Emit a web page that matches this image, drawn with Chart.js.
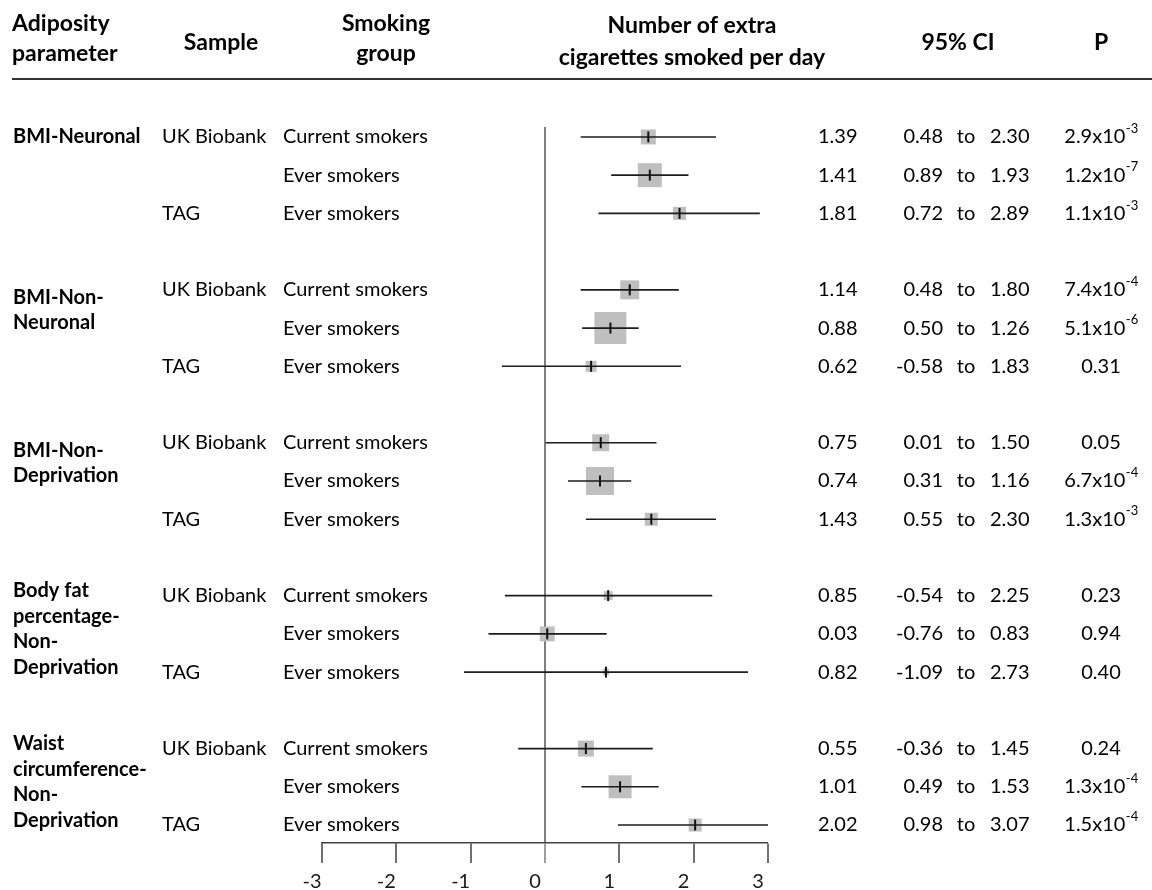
<!DOCTYPE html>
<html>
<head>
<meta charset="utf-8">
<title>Extra cigarettes smoked per day by adiposity parameter</title>
<script src="https://cdn.jsdelivr.net/npm/chart.js@4.4.1/dist/chart.umd.min.js"></script>
<style>
  html, body { margin: 0; padding: 0; background: #ffffff; }
  #wrap { position: relative; width: 1152px; height: 890px; }
</style>
</head>
<body>
<div id="wrap"><canvas id="forest" width="1152" height="890"></canvas></div>
<script>
// ---- data ----------------------------------------------------------------
const parameterLabels = [
  ['BMI-Neuronal'],
  ['BMI-Non-', 'Neuronal'],
  ['BMI-Non-', 'Deprivation'],
  ['Body fat', 'percentage-', 'Non-', 'Deprivation'],
  ['Waist', 'circumference-', 'Non-', 'Deprivation']
];
const samples = ['UK Biobank', '', 'TAG'];
const smokingGroups = ['Current smokers', 'Ever smokers', 'Ever smokers'];

const estimates = [1.39, 1.41, 1.81, 1.14, 0.88, 0.62, 0.75, 0.74, 1.43, 0.85, 0.03, 0.82, 0.55, 1.01, 2.02];
const ciLower   = [0.48, 0.89, 0.72, 0.48, 0.50, -0.58, 0.01, 0.31, 0.55, -0.54, -0.76, -1.09, -0.36, 0.49, 0.98];
const ciUpper   = [2.30, 1.93, 2.89, 1.80, 1.26, 1.83, 1.50, 1.16, 2.30, 2.25, 0.83, 2.73, 1.45, 1.53, 3.07];
const pMantissa = ['2.9x10', '1.2x10', '1.1x10', '7.4x10', '5.1x10', '0.31', '0.05', '6.7x10', '1.3x10',
                   '0.23', '0.94', '0.40', '0.24', '1.3x10', '1.5x10'];
const pExponent = ['-3', '-7', '-3', '-4', '-6', '', '', '-4', '-3', '', '', '', '', '-4', '-4'];
// relative weight of each estimate, shown as the side of its square (px)
const boxSide   = [15, 24, 13, 19, 32, 11, 17, 28, 13, 9, 15, 6, 16, 23, 13];
const xTicks    = [-3, -2, -1, 0, 1, 2, 3];

// ---- layout helpers ------------------------------------------------------
const ROWS_PER_GROUP = 3;
const GROUP_STRIDE = 4;            // three rows plus one blank row
const rowOf = i => Math.floor(i / ROWS_PER_GROUP) * GROUP_STRIDE + (i % ROWS_PER_GROUP);
const FONT = 'Lato, "Open Sans", sans-serif';
const BODY_PX = 20;
const HEAD_PX = 23;
const SUP_PX = 13;

// ---- datasets ------------------------------------------------------------
const ciDatasets = estimates.map((_, i) => ({
  type: 'line',
  data: [{ x: ciLower[i], y: rowOf(i) }, { x: ciUpper[i], y: rowOf(i) }],
  borderColor: '#1c1c1c',
  borderWidth: 1.6,
  pointRadius: 0,
  fill: false,
  order: 2
}));

const boxDataset = {
  type: 'scatter',
  data: estimates.map((v, i) => ({ x: v, y: rowOf(i) })),
  pointStyle: 'rect',
  pointRadius: ctx => boxSide[ctx.dataIndex] / (2 * Math.SQRT1_2),
  backgroundColor: '#bfbfbf',
  borderWidth: 0,
  order: 3
};

const centreDataset = {
  type: 'scatter',
  data: estimates.map((v, i) => ({ x: v, y: rowOf(i) })),
  pointStyle: 'line',
  pointRotation: 90,
  pointRadius: 5.5,
  borderColor: '#111111',
  borderWidth: 2,
  order: 1
};

// ---- table text drawn beside the plot ------------------------------------
const tablePlugin = {
  id: 'forestTable',
  afterDraw(chart) {
    const { ctx, scales } = chart;
    const yScale = scales.y;
    ctx.save();
    ctx.fillStyle = '#000000';

    // header
    ctx.font = `bold ${HEAD_PX}px ${FONT}`;
    ctx.textBaseline = 'alphabetic';
    ctx.textAlign = 'left';
    ctx.fillText('Adiposity', 12, 31);
    ctx.fillText('parameter', 12, 61);
    ctx.textAlign = 'center';
    ctx.fillText('Sample', 221, 50);
    ctx.fillText('Smoking', 386, 31);
    ctx.fillText('group', 386, 61);
    ctx.fillText('Number of extra', 692, 33);
    ctx.fillText('cigarettes smoked per day', 692, 65);
    ctx.fillText('95% CI', 958, 50);
    ctx.fillText('P', 1101, 50);

    // header rule
    ctx.strokeStyle = '#333333';
    ctx.lineWidth = 2;
    ctx.beginPath();
    ctx.moveTo(12, 79);
    ctx.lineTo(1152, 79);
    ctx.stroke();

    // parameter names
    ctx.textBaseline = 'middle';
    ctx.textAlign = 'left';
    ctx.font = `bold ${BODY_PX}px ${FONT}`;
    parameterLabels.forEach((lines, g) => {
      const first = g * GROUP_STRIDE;
      let centre;
      if (lines.length === 1) centre = yScale.getPixelForValue(first);
      else if (lines.length === 2) centre = yScale.getPixelForValue(first + 0.5) + 1;
      else centre = yScale.getPixelForValue(first + 1) - 5;
      const lh = 25.5;
      const top = centre - (lines.length - 1) * lh / 2;
      lines.forEach((t, k) => ctx.fillText(t, 13, top + k * lh));
    });

    // rows
    ctx.font = `${BODY_PX}px ${FONT}`;
    estimates.forEach((v, i) => {
      const yy = yScale.getPixelForValue(rowOf(i));
      const k = i % ROWS_PER_GROUP;
      ctx.textAlign = 'left';
      if (samples[k]) ctx.fillText(samples[k], 162, yy);
      ctx.fillText(smokingGroups[k], 283, yy);
      ctx.fillText(v.toFixed(2), 818, yy);
      ctx.textAlign = 'right';
      ctx.fillText(ciLower[i].toFixed(2), 943, yy);
      ctx.textAlign = 'center';
      ctx.fillText('to', 966, yy);
      ctx.textAlign = 'left';
      ctx.fillText(ciUpper[i].toFixed(2), 990, yy);

      // P value, with a raised exponent where needed
      const main = pMantissa[i];
      const exp = pExponent[i];
      ctx.font = `${BODY_PX}px ${FONT}`;
      const wMain = ctx.measureText(main).width;
      ctx.font = `${SUP_PX}px ${FONT}`;
      const wExp = exp ? ctx.measureText(exp).width : 0;
      const startX = 1101 - (wMain + wExp) / 2;
      ctx.font = `${BODY_PX}px ${FONT}`;
      ctx.fillText(main, startX, yy);
      if (exp) {
        ctx.font = `${SUP_PX}px ${FONT}`;
        ctx.fillText(exp, startX + wMain + 0.5, yy - 8);
        ctx.font = `${BODY_PX}px ${FONT}`;
      }
    });
    ctx.restore();
  }
};

// ---- chart ---------------------------------------------------------------
new Chart(document.getElementById('forest'), {
  type: 'scatter',
  data: { datasets: [boxDataset, ...ciDatasets, centreDataset] },
  options: {
    responsive: false,
    animation: false,
    events: [],
    layout: { padding: { left: 322, right: 384, top: 127, bottom: 0 } },
    plugins: { legend: { display: false }, tooltip: { enabled: false } },
    scales: {
      x: {
        type: 'linear',
        position: 'bottom',
        min: -3,
        max: 3,
        afterBuildTicks: scale => { scale.ticks = xTicks.map(v => ({ value: v })); },
        afterFit: scale => { scale.height = 47; },
        ticks: {
          color: '#1a1a1a',
          font: { family: FONT, size: BODY_PX, lineHeight: 1 },
          padding: 9,
          labelOffset: -10,
          maxRotation: 0,
          autoSkip: false
        },
        grid: {
          drawOnChartArea: true,
          drawTicks: true,
          tickLength: 20,
          color: ctx => (ctx.tick && ctx.tick.value === 0 ? '#7f7f7f' : 'rgba(0,0,0,0)'),
          lineWidth: ctx => (ctx.tick && ctx.tick.value === 0 ? 2 : 0),
          tickColor: ctx => (ctx.tick && ctx.tick.value === 0 ? '#7f7f7f' : '#404040'),
          tickWidth: 1.5
        },
        border: { display: true, color: '#404040', width: 1.5 }
      },
      y: {
        type: 'linear',
        display: false,
        reverse: true,
        min: -0.26,
        max: 18.47
      }
    }
  },
  plugins: [tablePlugin]
});
</script>
</body>
</html>
